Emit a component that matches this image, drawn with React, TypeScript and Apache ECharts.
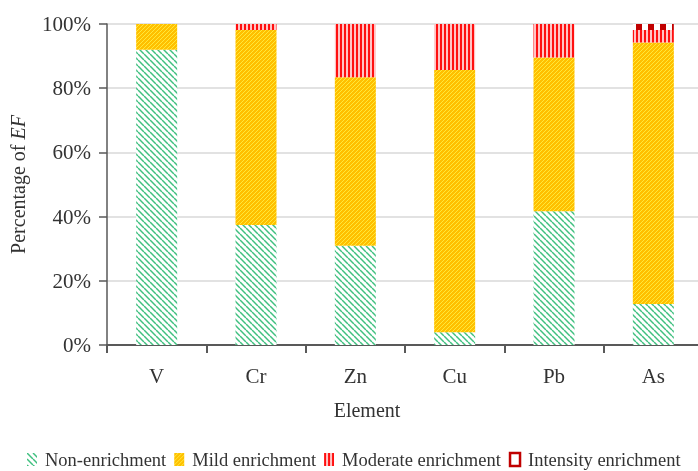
import React, { useEffect, useRef } from 'react';
import * as echarts from 'echarts';

const categories = ['V', 'Cr', 'Zn', 'Cu', 'Pb', 'As'];
const nonEnrichment = [92.0, 37.4, 30.9, 4.0, 41.7, 12.8];
const mildEnrichment = [8.0, 60.7, 52.5, 81.7, 47.9, 81.4];
const moderateEnrichment = [0, 1.9, 16.6, 14.3, 10.4, 3.9];
const intensityEnrichment = [0, 0, 0, 0, 0, 1.9];
const seriesNames = ['Non-enrichment', 'Mild enrichment', 'Moderate enrichment', 'Intensity enrichment'];

const FONT = 'Liberation Serif';
const TEXT = '#333333';

function makeTile(w: number, h: number, draw: (ctx: CanvasRenderingContext2D) => void): any {
  const c = document.createElement('canvas');
  c.width = w;
  c.height = h;
  const ctx = c.getContext('2d') as CanvasRenderingContext2D;
  draw(ctx);
  return { image: c.toDataURL(), repeat: 'repeat', imageWidth: w, imageHeight: h };
}

export default function App() {
  const ref = useRef<HTMLDivElement>(null);
  useEffect(() => {
    if (!ref.current) return;
    const chart = echarts.init(ref.current, undefined, { renderer: 'svg' });

    const nonPat = makeTile(6, 6, (ctx) => {
      ctx.fillStyle = '#ffffff';
      ctx.fillRect(0, 0, 6, 6);
      ctx.strokeStyle = '#40c080';
      ctx.lineWidth = 1.5;
      for (const k of [-6, 0, 6]) {
        ctx.beginPath();
        ctx.moveTo(k, 0);
        ctx.lineTo(k + 6, 6);
        ctx.stroke();
      }
    });
    const mildPat = makeTile(4, 4, (ctx) => {
      ctx.fillStyle = '#FFC000';
      ctx.fillRect(0, 0, 4, 4);
      ctx.strokeStyle = '#FFE83A';
      ctx.lineWidth = 1;
      for (const k of [-4, 0, 4]) {
        ctx.beginPath();
        ctx.moveTo(k, 4);
        ctx.lineTo(k + 4, 0);
        ctx.stroke();
      }
    });
    const modPat = makeTile(4, 4, (ctx) => {
      ctx.fillStyle = '#FFC4C4';
      ctx.fillRect(0, 0, 4, 4);
      ctx.fillStyle = '#FF1010';
      ctx.fillRect(0, 0, 2, 4);
    });
    const intPat = makeTile(12, 12, (ctx) => {
      ctx.fillStyle = '#ffffff';
      ctx.fillRect(0, 0, 12, 12);
      ctx.fillStyle = '#C00000';
      ctx.fillRect(0, 0, 6, 6);
    });

    const values = [nonEnrichment, mildEnrichment, moderateEnrichment, intensityEnrichment];
    const fills = [nonPat, mildPat, modPat, intPat];

    chart.setOption({
      animation: false,
      grid: { left: 107, right: -5, top: 24, bottom: 126, containLabel: false, outerBoundsMode: 'none' },
      legend: {
        left: 22,
        top: 445,
        itemWidth: 10,
        itemHeight: 13,
        itemGap: 8,
        icon: 'rect',
        textStyle: { fontFamily: FONT, fontSize: 18.5, color: TEXT, padding: [0, 0, 0, 3] },
        data: [
          { name: seriesNames[0], itemStyle: { color: nonPat } },
          { name: seriesNames[1], itemStyle: { color: mildPat } },
          { name: seriesNames[2], itemStyle: { color: modPat } },
          { name: seriesNames[3], itemStyle: { color: '#ffffff', borderColor: '#C00000', borderWidth: 2.5 } },
        ],
      },
      xAxis: {
        type: 'category',
        data: categories,
        axisLine: { show: true, lineStyle: { color: '#595959', width: 2 } },
        axisTick: { show: true, length: 8, lineStyle: { color: '#595959', width: 2 } },
        axisLabel: { fontFamily: FONT, fontSize: 21, color: TEXT, margin: 20 },
      },
      yAxis: {
        type: 'value',
        min: 0,
        max: 100,
        interval: 20,
        name: '{a|Percentage of }{b|EF}',
        nameLocation: 'middle',
        nameGap: 79,
        nameRotate: 90,
        nameTextStyle: {
          rich: {
            a: { fontFamily: FONT, fontSize: 20, color: TEXT },
            b: { fontFamily: FONT, fontSize: 20, color: TEXT, fontStyle: 'italic' },
          },
        },
        axisLine: { show: true, lineStyle: { color: '#595959', width: 1.5 } },
        axisTick: { show: true, length: 8, lineStyle: { color: '#595959', width: 1.5 } },
        axisLabel: { fontFamily: FONT, fontSize: 21, color: TEXT, margin: 16, formatter: '{value}%' },
        splitLine: { show: true, lineStyle: { color: '#D9D9D9', width: 1.5 } },
      },
      graphic: [
        {
          type: 'text',
          x: 367,
          y: 410,
          style: {
            text: 'Element',
            fontFamily: FONT,
            fontSize: 20,
            fill: TEXT,
            align: 'center',
            verticalAlign: 'middle',
          },
        },
      ],
      series: seriesNames.map((name, i) => ({
        name,
        type: 'bar',
        stack: 'total',
        barWidth: 41,
        data: values[i],
        itemStyle: { color: fills[i] },
        emphasis: { disabled: true },
      })),
    });
    return () => chart.dispose();
  }, []);
  return <div ref={ref} style={{ position: 'fixed', left: 0, top: 0, width: 698, height: 471 }} />;
}
